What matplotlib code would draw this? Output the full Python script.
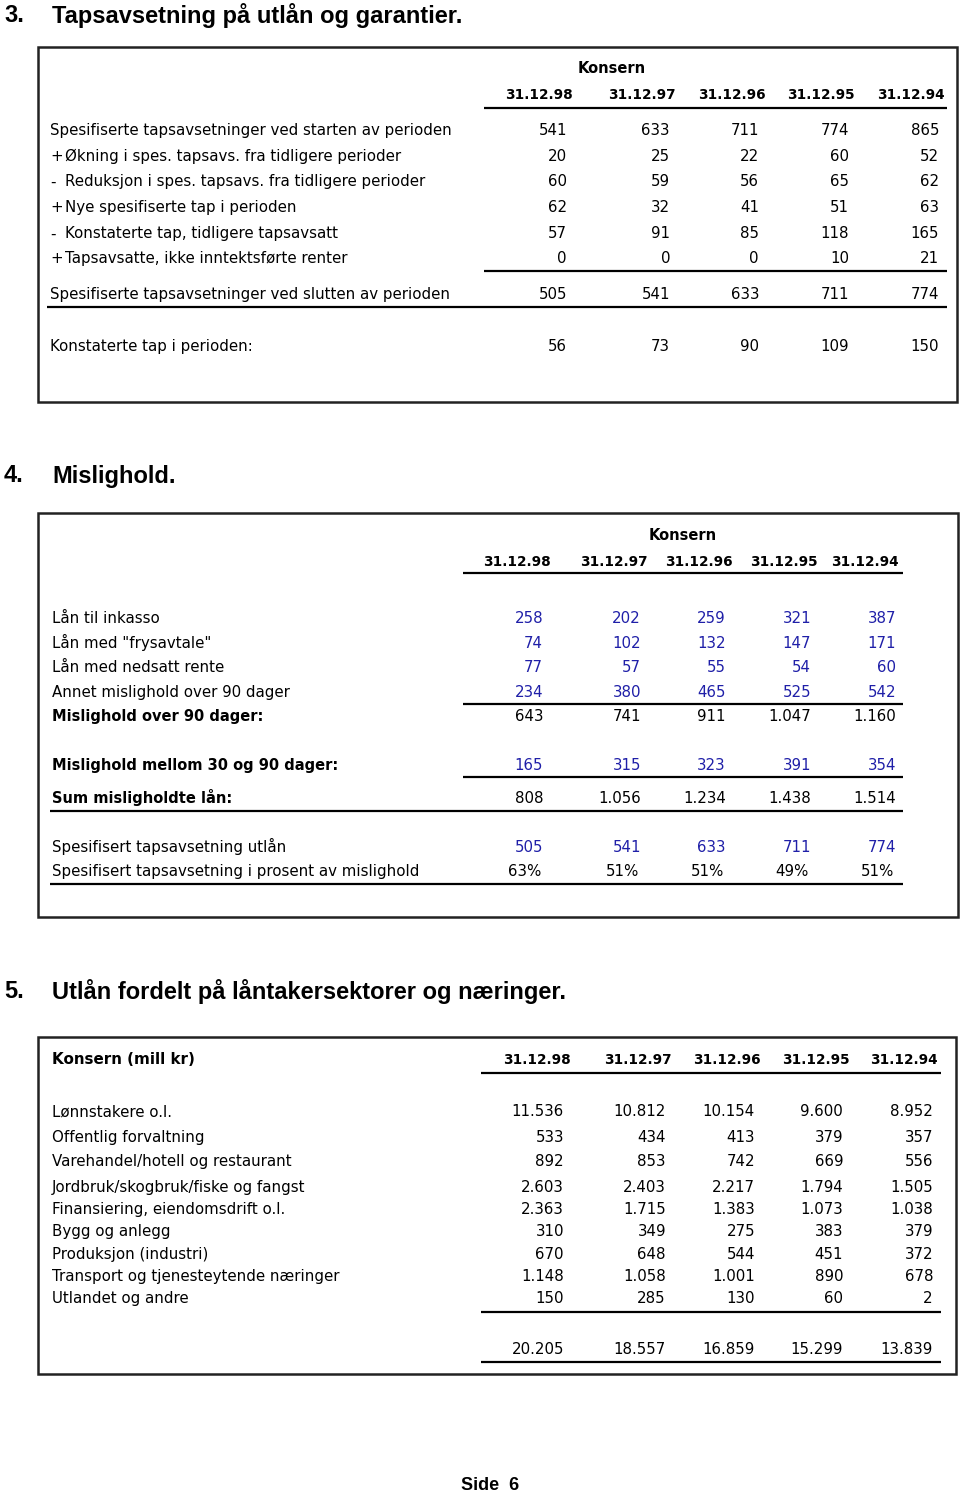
import matplotlib
matplotlib.use("Agg")
from matplotlib import pyplot as plt
from matplotlib.patches import Rectangle

plt.rcParams['font.family'] = ['DejaVu Sans']

# ---- data ----
dates = ['31.12.98', '31.12.97', '31.12.96', '31.12.95', '31.12.94']

tap_signs = ['', '+', '-', '+', '-', '+']
tap_labels = ['Spesifiserte tapsavsetninger ved starten av perioden',
              'Økning i spes. tapsavs. fra tidligere perioder',
              'Reduksjon i spes. tapsavs. fra tidligere perioder',
              'Nye spesifiserte tap i perioden',
              'Konstaterte tap, tidligere tapsavsatt',
              'Tapsavsatte, ikke inntektsførte renter']
tap_values = [[541, 633, 711, 774, 865],
              [20, 25, 22, 60, 52],
              [60, 59, 56, 65, 62],
              [62, 32, 41, 51, 63],
              [57, 91, 85, 118, 165],
              [0, 0, 0, 10, 21]]
tap_end_label = 'Spesifiserte tapsavsetninger ved slutten av perioden'
tap_end = [505, 541, 633, 711, 774]
konst_label = 'Konstaterte tap i perioden:'
konst = [56, 73, 90, 109, 150]

mis_labels = ['Lån til inkasso', 'Lån med "frysavtale"',
              'Lån med nedsatt rente', 'Annet mislighold over 90 dager']
mis_values = [[258, 202, 259, 321, 387],
              [74, 102, 132, 147, 171],
              [77, 57, 55, 54, 60],
              [234, 380, 465, 525, 542]]
mis90 = [643, 741, 911, 1047, 1160]
mis30 = [165, 315, 323, 391, 354]
mis_sum = [808, 1056, 1234, 1438, 1514]
spes_utlan = [505, 541, 633, 711, 774]
spes_pct = [63, 51, 51, 49, 51]

sektor_labels = ['Lønnstakere o.l.', 'Offentlig forvaltning',
                 'Varehandel/hotell og restaurant',
                 'Jordbruk/skogbruk/fiske og fangst',
                 'Finansiering, eiendomsdrift o.l.', 'Bygg og anlegg',
                 'Produksjon (industri)',
                 'Transport og tjenesteytende næringer', 'Utlandet og andre']
sektor_values = [[11536, 10812, 10154, 9600, 8952],
                 [533, 434, 413, 379, 357],
                 [892, 853, 742, 669, 556],
                 [2603, 2403, 2217, 1794, 1505],
                 [2363, 1715, 1383, 1073, 1038],
                 [310, 349, 275, 383, 379],
                 [670, 648, 544, 451, 372],
                 [1148, 1058, 1001, 890, 678],
                 [150, 285, 130, 60, 2]]
sektor_total = [20205, 18557, 16859, 15299, 13839]

BLUE = '#1f1fa8'
FS = 10.8      # body text
FSD = 9.8      # bold dates
FSB = 10.5     # bold labels
HEAD_FONT = ['Liberation Sans', 'DejaVu Sans']


def fmt(v):
    return f"{v:,}".replace(",", ".")


fig = plt.figure(figsize=(9.6, 14.92), dpi=100)
ax = fig.add_axes([0, 0, 1, 1])
ax.set_xlim(0, 960)
ax.set_ylim(1492, 0)
ax.axis('off')


def txt(x, y, s, ha='left', bold=False, color='black', size=FS):
    # y is the visual centre of the capitals
    ax.text(x, y + 5.3, s, ha=ha, va='baseline', fontsize=size,
            fontweight='bold' if bold else 'normal', color=color)


def hline(y, x0, x1):
    ax.plot([x0, x1], [y, y], color='black', lw=1.6, solid_capstyle='butt')


def box(x0, y0, x1, y1):
    ax.add_patch(Rectangle((x0, y0), x1 - x0, y1 - y0, fill=False,
                           edgecolor='#222222', lw=1.8))


def row(y, vals, rights, color='black', fn=fmt):
    for v, r in zip(vals, rights):
        txt(r, y, fn(v), ha='right', color=color)


def heading(y, num, s):
    ax.text(4, y + 8.5, num, fontsize=17, fontweight='bold', va='baseline',
            family=HEAD_FONT)
    ax.text(52, y + 8.5, s, fontsize=17, fontweight='bold', va='baseline',
            family=HEAD_FONT)


# ---- 3. Tapsavsetning ----
heading(14, '3.', 'Tapsavsetning på utlån og garantier.')
box(38, 47, 957, 402)
txt(612, 68, 'Konsern', ha='center', bold=True, size=FSB)
for d, c in zip(dates, [539, 642, 732, 821, 911]):
    txt(c, 94, d, ha='center', bold=True, size=FSD)
hline(108, 484, 947)
r3 = [567, 670, 759, 849, 939]
ys3 = [130, 156, 181, 207, 233, 258]
for sgn, lab, vals, y in zip(tap_signs, tap_labels, tap_values, ys3):
    if sgn:
        txt(50, y, sgn)
        txt(65, y, lab)
    else:
        txt(50, y, lab)
    row(y, vals, r3)
hline(271, 484, 947)
txt(50, 294, tap_end_label)
row(294, tap_end, r3)
hline(307, 47, 947)
txt(50, 346, konst_label)
row(346, konst, r3)

# ---- 4. Mislighold ----
heading(474, '4.', 'Mislighold.')
box(38, 513, 958, 917)
txt(683, 535, 'Konsern', ha='center', bold=True, size=FSB)
for d, c in zip(dates, [517, 614, 699, 784, 865]):
    txt(c, 561, d, ha='center', bold=True, size=FSD)
hline(573, 463, 903)
r4 = [543, 641, 726, 811, 896]
for lab, vals, y in zip(mis_labels, mis_values, [618, 643, 667, 692]):
    txt(52, y, lab)
    row(y, vals, r4, color=BLUE)
hline(704, 463, 903)
txt(52, 716, 'Mislighold over 90 dager:', bold=True, size=FSB)
row(716, mis90, r4)
txt(52, 765, 'Mislighold mellom 30 og 90 dager:', bold=True, size=FSB)
row(765, mis30, r4, color=BLUE)
hline(777, 463, 903)
txt(52, 798, 'Sum misligholdte lån:', bold=True, size=FSB)
row(798, mis_sum, r4)
hline(811, 50, 903)
txt(52, 847, 'Spesifisert tapsavsetning utlån')
row(847, spes_utlan, r4, color=BLUE)
txt(52, 871, 'Spesifisert tapsavsetning i prosent av mislighold')
row(871, spes_pct, [r - 2 for r in r4], fn=lambda v: f"{v}%")
hline(884, 50, 903)

# ---- 5. Utlån fordelt ----
heading(990, '5.', 'Utlån fordelt på låntakersektorer og næringer.')
box(38, 1037, 956, 1374)
txt(52, 1059, 'Konsern (mill kr)', bold=True, size=FSB + 0.4)
for d, c in zip(dates, [537, 638, 727, 816, 904]):
    txt(c, 1059, d, ha='center', bold=True, size=FSD)
hline(1073, 481, 941)
r5 = [564, 666, 755, 843, 933]
ys5 = [1111, 1137, 1161, 1187, 1209, 1231, 1254, 1276, 1298]
for lab, vals, y in zip(sektor_labels, sektor_values, ys5):
    txt(52, y, lab)
    row(y, vals, r5)
hline(1312, 481, 941)
row(1349, sektor_total, r5)
hline(1362, 481, 941)

ax.text(490, 1490, 'Side  6', ha='center', va='baseline', fontsize=13,
        fontweight='bold', family=HEAD_FONT)

fig.savefig('out.png', dpi=100)
